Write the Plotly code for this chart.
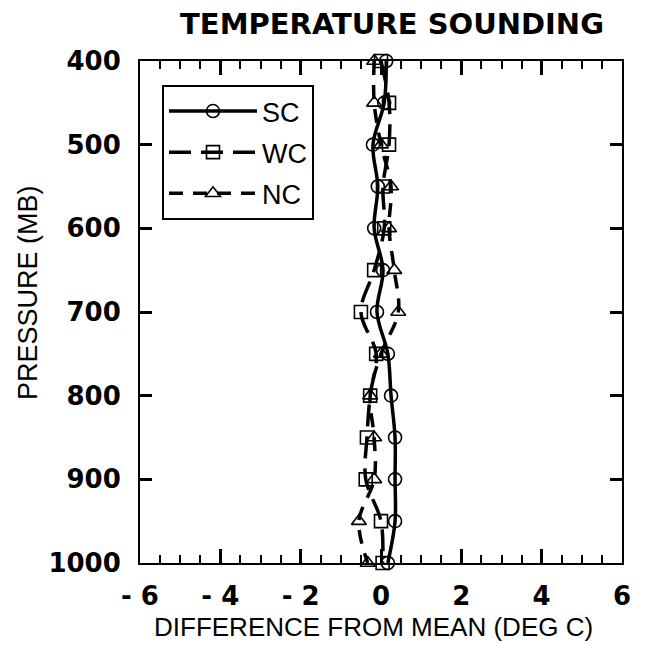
import plotly.graph_objects as go

pressure = [400, 450, 500, 550, 600, 650, 700, 750, 800, 850, 900, 950, 1000]
sc = [0.13, 0.08, -0.20, -0.08, -0.17, 0.05, -0.10, 0.17, 0.25, 0.35, 0.35, 0.35, 0.17]
wc = [0.00, 0.20, 0.20, 0.05, 0.08, -0.17, -0.50, -0.12, -0.27, -0.35, -0.38, 0.00, 0.04]
nc = [-0.17, -0.17, 0.00, 0.25, 0.20, 0.33, 0.43, 0.00, -0.27, -0.17, -0.17, -0.55, -0.33]

x_tickvals = [-6, -4, -2, 0, 2, 4, 6]
x_ticktext = ["- 6", "- 4", "- 2", "0", "2", "4", "6"]
y_tickvals = [400, 500, 600, 700, 800, 900, 1000]
y_ticktext = ["400", "500", "600", "700", "800", "900", "1000"]

series = [
    ("SC", sc, "circle-open", "solid"),
    ("WC", wc, "square-open", "22px,10px"),
    ("NC", nc, "triangle-up-open", "14px,10px"),
]

fig = go.Figure()
for i, (name, vals, sym, dash) in enumerate(series):
    fig.add_trace(go.Scatter(
        x=vals, y=pressure, name=name, mode="lines+markers",
        line=dict(color="black", width=3.5, dash=dash, shape="spline", smoothing=1),
        marker=dict(symbol=sym, size=13, color="black", line=dict(width=1.6, color="black")),
        cliponaxis=False, legendgroup=name,
    ))
# empty traces carrying the overlay axes that draw the inward tick marks
fig.add_trace(go.Scatter(x=[], y=[], xaxis="x2", yaxis="y", showlegend=False, hoverinfo="skip"))
fig.add_trace(go.Scatter(x=[], y=[], xaxis="x", yaxis="y2", showlegend=False, hoverinfo="skip"))

tickfont = dict(family="DejaVu Sans", size=26, color="black", weight="bold")
clear = "rgba(0,0,0,0)"
tick_col = "black"

fig.update_layout(
    template="none",
    width=660, height=649,
    margin=dict(l=140, r=38, t=61, b=86),
    paper_bgcolor="white", plot_bgcolor="white",
    title=dict(text="TEMPERATURE SOUNDING", x=392/660, xref="container", xanchor="center",
               y=1 - 24/649, yref="container", yanchor="middle",
               font=dict(family="DejaVu Sans", size=29, color="black", weight="bold")),
    xaxis=dict(range=[-6, 6], tickmode="array", tickvals=x_tickvals, ticktext=x_ticktext,
               ticks="outside", ticklen=9, tickcolor=clear,
               showline=True, linewidth=2, linecolor="black", mirror=True,
               showgrid=False, zeroline=False, tickfont=tickfont),
    xaxis2=dict(range=[-6, 6], overlaying="x", anchor="y", side="bottom",
                tickmode="linear", tick0=-6, dtick=2, ticks="inside", ticklen=14,
                tickwidth=2.5, tickcolor=tick_col, mirror="allticks", showline=False,
                showticklabels=False, showgrid=False, zeroline=False,
                minor=dict(tickmode="linear", tick0=-6, dtick=0.5, ticks="inside", ticklen=8,
                           tickwidth=2, tickcolor=tick_col, showgrid=False)),
    yaxis=dict(range=[1000, 400], tickmode="array", tickvals=y_tickvals, ticktext=y_ticktext,
               ticks="outside", ticklen=12, tickcolor=clear,
               showline=True, linewidth=2, linecolor="black", mirror=True,
               showgrid=False, zeroline=False, tickfont=tickfont),
    yaxis2=dict(range=[1000, 400], overlaying="y", anchor="x", side="left",
                tickmode="linear", tick0=400, dtick=100, ticks="inside", ticklen=12,
                tickwidth=2.5, tickcolor=tick_col, mirror="allticks", showline=False,
                showticklabels=False, showgrid=False, zeroline=False),
    legend=dict(x=(162-140)/482, y=(563-85)/502, xanchor="left", yanchor="top",
                bordercolor="black", borderwidth=2, bgcolor="white",
                font=dict(family="Liberation Sans", size=27, color="black"),
                itemwidth=88, traceorder="grouped", tracegroupgap=3),
    showlegend=True,
    annotations=[
        dict(text="PRESSURE (MB)", xref="paper", yref="paper", x=(28-140)/482, y=(563-293)/502,
             textangle=-90, showarrow=False, xanchor="center", yanchor="middle",
             font=dict(family="Liberation Sans", size=27, color="black")),
        dict(text="DIFFERENCE FROM MEAN (DEG C)", xref="paper", yref="paper", x=(373-140)/482,
             y=-(627-563)/502, showarrow=False, xanchor="center", yanchor="middle",
             font=dict(family="Liberation Sans", size=26, color="black")),
    ],
)

fig.write_html("out.html")
